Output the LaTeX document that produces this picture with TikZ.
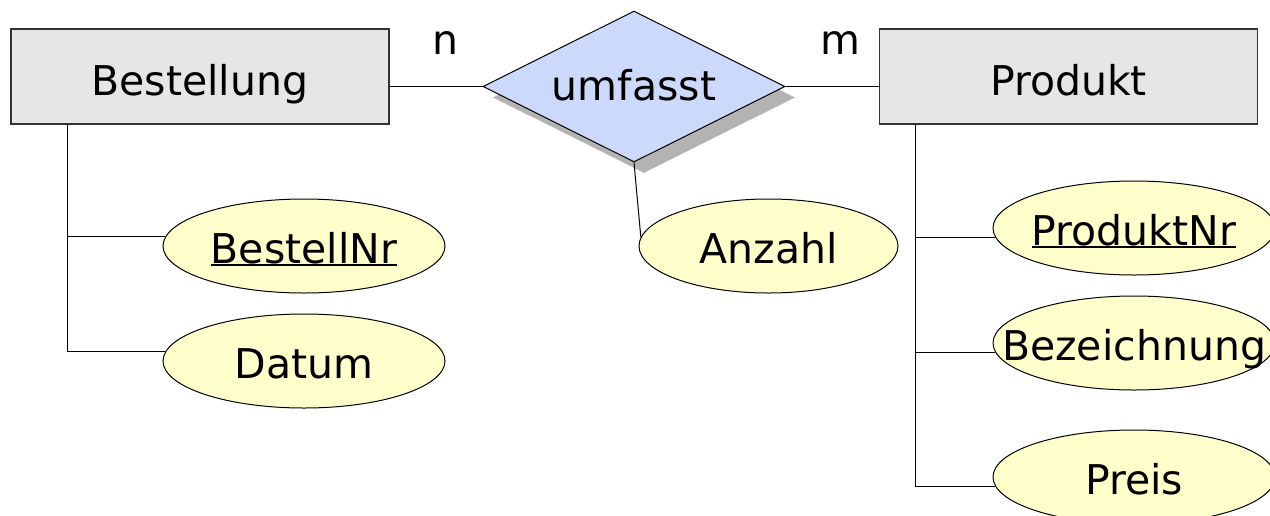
\documentclass[tikz,border=0pt]{standalone}
\usepackage{fontspec}
\setmainfont{DejaVu Sans}
\usetikzlibrary{shapes.geometric,shadows,positioning}
\definecolor{entgray}{HTML}{E6E6E6}
\definecolor{relblue}{HTML}{CCD9FA}
\definecolor{attryellow}{HTML}{FFFFCC}
\definecolor{shadegray}{HTML}{B3B3B3}
\definecolor{framegray}{HTML}{333333}
% attribute labels may run past the ellipse, so they take no width
\newcommand{\attrname}[1]{\makebox[0pt]{#1}}
\newcommand{\keyattr}[1]{\makebox[0pt]{\setbox0\hbox{#1}\rlap{\rule[-3pt]{\wd0}{2.2pt}}\box0}}
\tikzset{
  entity/.style={draw=framegray,line width=1.5pt,fill=entgray,
    minimum width=378pt,minimum height=95pt,inner sep=0pt,
    text height=37pt,text depth=0pt},
  relation/.style={diamond,aspect=2,draw,line width=1pt,fill=relblue,
    minimum width=302pt,minimum height=151pt,inner sep=0pt,
    text height=27pt,text depth=0pt,
    drop shadow={shadow xshift=10pt,shadow yshift=-11pt,fill=shadegray,opacity=1}},
  attribute/.style={ellipse,draw,line width=1pt,fill=attryellow,
    minimum width=282pt,minimum height=94pt,inner sep=0pt,
    text height=34pt,text depth=0pt},
  link/.style={draw,line width=1pt}
}

\begin{document}
\begin{tikzpicture}[x=1pt,y=-1pt,font=\fontsize{41}{49}\selectfont]
\useasboundingbox (0,0) rectangle (1270,515);
\node[entity] (best) at (200,76.5) {Bestellung};
\node[entity] (prod) at (1068.5,76.5) {Produkt};
\node[relation] (rel) at (634,86.5) {umfasst};
\node (cardn) at (445,43) {n};
\node (cardm) at (840,43) {m};

\node[attribute] (bnr) at (304,246) {\keyattr{BestellNr}};
\node[attribute, below=20pt of bnr] (dat) {\attrname{Datum}};
\node[attribute, minimum width=259pt] (anz) at (768.5,246) {\attrname{Anzahl}};
\node[attribute] (pnr) at (1134,228) {\keyattr{ProduktNr}};
\node[attribute, below=20pt of pnr] (bez) {\attrname{Bezeichnung}};
\node[attribute, below=39pt of bez] (preis) {\attrname{Preis}};

\coordinate (bspine) at ([xshift=57pt]best.south west);
\coordinate (pspine) at ([xshift=37pt]prod.south west);

\draw[link] (rel.west -| best.east) -- (rel.west);
\draw[link] (rel.east) -- (rel.east -| prod.west);
\draw[link] (rel.south) -- (anz.176);
\draw[link] (bspine) |- (bnr.176);
\draw[link] (bspine) |- (dat.176);
\draw[link] (pspine) |- (pnr.184);
\draw[link] (pspine) |- (bez.184);
\draw[link] (pspine) |- (preis.184);
\end{tikzpicture}
\end{document}
